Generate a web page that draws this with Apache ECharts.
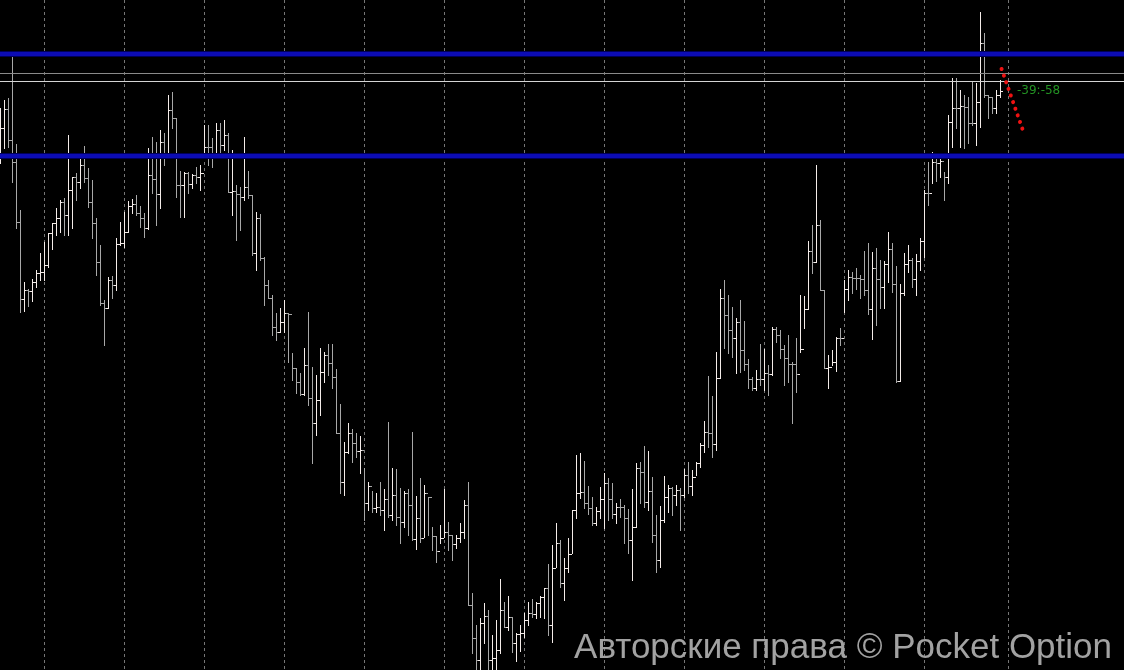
<!DOCTYPE html>
<html><head><meta charset="utf-8">
<script src="https://cdn.jsdelivr.net/npm/echarts@6/dist/echarts.min.js"></script>
<style>html,body{margin:0;padding:0;background:#000;}#c{width:1124px;height:670px;}</style>
</head><body><div id="c"></div>
<script>
// price in points (chart has no visible scale)
var opens = [850,872,891,860,838,778,701,710,709,718,
727,728,735,767,777,782,798,785,810,823,
818,835,822,798,777,738,697,692,720,715,
756,757,768,794,796,787,782,772,825,821,
806,858,842,890,882,815,815,827,816,825,
823,827,853,853,843,870,855,865,808,809,
806,803,813,805,747,782,742,715,702,673,
668,678,687,686,632,618,606,635,602,577,
600,628,645,637,623,567,518,548,567,557,
549,550,497,514,492,493,490,501,485,505,
483,478,507,495,461,482,462,507,503,464,
449,462,468,465,456,462,468,495,395,362,
340,377,384,340,342,350,390,373,383,357,
366,367,380,387,386,397,403,412,375,432,
457,417,432,446,490,507,508,497,492,477,
489,501,517,501,486,493,493,482,460,473,
532,528,498,509,465,440,480,503,512,505,
510,505,525,514,523,537,555,568,567,556,
622,702,685,670,662,678,650,636,621,612,
621,621,627,626,671,665,651,642,636,636,
626,651,691,749,738,775,710,632,633,638,
662,662,711,723,722,722,721,710,691,732,
721,713,736,751,716,619,707,736,740,721,
739,759,807,807,838,837,839,823,878,892,
892,894,893,877,877,898,957,905,903,892,
905];
var highs = [892,900,902,944,856,790,718,711,721,730,
747,758,767,777,792,800,802,865,823,827,
842,854,832,820,782,755,700,723,724,762,
778,788,799,801,805,794,787,852,863,858,
870,867,905,908,882,829,828,828,826,833,
835,875,875,862,877,877,880,867,850,815,
813,863,829,805,788,786,743,720,705,687,
692,700,687,647,632,627,652,688,633,625,
652,648,656,656,631,596,558,577,571,567,
564,532,518,509,507,518,511,578,532,531,
512,509,511,568,504,522,515,503,473,464,
475,511,478,465,465,477,500,518,407,375,
382,397,390,365,380,421,398,404,383,367,
375,387,398,401,398,404,412,436,455,477,
460,442,462,490,545,547,539,514,503,493,
513,527,522,517,497,501,495,491,511,537,
538,554,549,523,485,494,524,515,513,515,
512,531,538,530,538,557,579,624,604,648,
711,720,705,693,682,700,679,641,623,630,
656,651,635,673,673,670,655,665,638,662,
705,704,759,775,835,780,710,645,650,663,
672,720,730,728,732,725,749,757,748,752,
740,739,768,757,734,716,747,755,742,746,
762,810,838,848,845,843,828,885,922,922,
910,905,903,918,917,988,967,905,903,910,
920];
var lows = [837,852,853,818,772,688,689,694,699,713,
720,720,733,751,765,768,765,765,772,800,
812,818,793,762,725,695,655,692,702,710,
755,753,768,787,785,773,763,771,807,775,
792,835,842,872,803,783,783,807,812,817,
810,843,835,833,842,847,850,808,785,760,
770,800,802,745,730,740,695,702,665,660,
668,668,638,620,607,605,605,595,537,565,
585,618,625,612,567,507,505,547,538,543,
527,480,490,488,488,485,470,483,480,475,
457,473,465,460,451,458,463,465,450,438,
457,463,450,440,452,458,462,395,347,325,
325,357,325,325,325,347,373,370,348,339,
349,363,375,383,382,383,382,365,358,433,
413,400,428,447,482,502,492,486,475,475,
482,472,480,482,477,483,457,447,420,473,
497,493,490,458,428,433,478,488,485,495,
470,503,507,505,525,533,548,553,543,550,
622,652,647,643,627,628,630,612,610,610,
615,610,605,625,658,642,615,618,577,608,
648,672,691,727,738,710,632,612,635,629,
655,688,700,707,711,702,705,686,661,675,
692,692,718,708,618,619,705,728,713,705,
730,743,795,817,819,823,800,817,853,872,
853,852,857,875,855,873,903,882,887,887,
903];
var closes = [872,891,860,838,778,701,710,709,718,727,
728,735,767,777,782,798,785,810,823,818,
835,822,798,777,738,697,692,720,715,756,
757,768,794,796,787,782,772,825,821,806,
858,842,890,882,815,815,827,816,825,823,
827,853,853,843,870,855,865,808,809,806,
803,813,805,747,782,742,715,702,673,668,
678,687,686,632,618,606,635,602,577,600,
628,645,637,623,567,518,548,567,557,549,
550,497,514,492,493,490,501,485,505,483,
478,507,495,461,482,462,507,503,464,449,
462,468,465,456,462,468,495,395,362,340,
377,384,340,342,350,390,373,383,357,366,
367,380,387,386,397,403,412,375,432,457,
417,432,446,490,507,508,497,492,477,489,
501,517,501,486,493,493,482,460,473,532,
528,498,509,465,440,480,503,512,505,510,
505,525,514,523,537,555,568,567,556,622,
702,685,670,662,678,650,636,621,612,621,
621,627,626,671,665,651,642,636,636,626,
651,691,749,738,775,710,632,633,638,662,
662,711,723,722,722,721,710,691,732,721,
713,736,751,716,619,707,736,740,721,739,
759,807,807,838,837,839,823,878,892,892,
894,893,877,877,898,957,905,903,892,905,
909];
var gridBars = [11,31,51,71,91,111,131,151,171,191,211,231,252];
var resistanceLevels = [946, 844];
var quoteLevels = [927, 919];
var projection = [[250.4, 931], [255.7, 870]];
var timerLabel = '-39:-58';
var watermark = 'Авторские права © Pocket Option';

var UP = '#f4ece9', DOWN = '#a8a8a8';
var n = Math.min(opens.length, highs.length, lows.length, closes.length);
var bars = [];
for (var i = 0; i < n; i++) bars.push([i, opens[i], highs[i], lows[i], closes[i]]);

var chart = echarts.init(document.getElementById('c'), null, {renderer: 'canvas'});

function crispY(api, v, w) {
  var y = Math.round(api.coord([0, v])[1]);
  return (w % 2 === 1) ? y + 0.5 : y;
}

chart.setOption({
  backgroundColor: '#000000',
  animation: false,
  grid: {left: 0, right: 0, top: 0, bottom: 0},
  xAxis: {type: 'value', min: 0, max: 281, show: false, splitLine: {show: false}},
  yAxis: {type: 'value', min: 330, max: 1000, show: false, splitLine: {show: false}},
  series: [
    {
      type: 'custom', name: 'grid', silent: true, z: 1,
      data: gridBars.map(function (b) { return [b]; }),
      encode: {x: 0},
      renderItem: function (params, api) {
        var cs = params.coordSys;
        var x = Math.round(api.coord([api.value(0), 500])[0]) + 0.5;
        return {type: 'line', shape: {x1: x, y1: cs.y, x2: x, y2: cs.y + cs.height},
          style: {stroke: '#767676', lineWidth: 1, lineDash: [3, 3]}};
      }
    },
    {
      type: 'custom', name: 'bars', z: 2, clip: true,
      data: bars,
      encode: {x: 0, y: [1, 2, 3, 4]},
      renderItem: function (params, api) {
        var k = api.value(0), o = api.value(1), h = api.value(2), l = api.value(3), c = api.value(4);
        var ph = api.coord([k, h]), pl = api.coord([k, l]), po = api.coord([k, o]), pc = api.coord([k, c]);
        var cx = Math.round(ph[0]) + 0.5;
        var yo = Math.round(po[1]) + 0.5, yc = Math.round(pc[1]) + 0.5;
        var col = c > o ? UP : DOWN;
        var st = {stroke: col, lineWidth: 1};
        return {type: 'group', children: [
          {type: 'line', shape: {x1: cx, y1: Math.round(ph[1]), x2: cx, y2: Math.round(pl[1]) + 1}, style: st},
          {type: 'line', shape: {x1: cx - 2.5, y1: yo, x2: cx - 0.5, y2: yo}, style: st},
          {type: 'line', shape: {x1: cx + 0.5, y1: yc, x2: cx + 2.5, y2: yc}, style: st}
        ]};
      }
    },
    {
      type: 'custom', name: 'quotes', silent: true, z: 3,
      data: quoteLevels.map(function (v) { return [0, v]; }),
      encode: {y: 1},
      renderItem: function (params, api) {
        var cs = params.coordSys;
        var y = crispY(api, api.value(1), 1);
        var cols = ['#8a8a8a', '#d4d4d4'];
        return {type: 'line', shape: {x1: cs.x, y1: y, x2: cs.x + cs.width, y2: y},
          style: {stroke: cols[params.dataIndex % 2], lineWidth: 1}};
      }
    },
    {
      type: 'custom', name: 'levels', silent: true, z: 4,
      data: resistanceLevels.map(function (v) { return [0, v]; }),
      encode: {y: 1},
      renderItem: function (params, api) {
        var cs = params.coordSys;
        var y = crispY(api, api.value(1), 4);
        return {type: 'group', children: [
          {type: 'line', shape: {x1: cs.x, y1: y, x2: cs.x + cs.width, y2: y},
            style: {stroke: '#00005a', lineWidth: 6}},
          {type: 'line', shape: {x1: cs.x, y1: y, x2: cs.x + cs.width, y2: y},
            style: {stroke: '#0c0cb4', lineWidth: 4}}
        ]};
      }
    },
    {
      type: 'line', name: 'projection', z: 5, silent: true,
      data: projection, symbol: 'none',
      lineStyle: {color: '#ee1212', width: 4, type: [0.01, 7], cap: 'round'}
    }
  ],
  graphic: [
    {type: 'text', x: 1017, y: 91, silent: true, z: 10,
      style: {text: timerLabel, fill: '#239323', font: '12px "DejaVu Sans"', textAlign: 'left', textVerticalAlign: 'middle'}},
    {type: 'text', x: 1112, y: 648, silent: true, z: 10,
      style: {text: watermark, fill: '#a2a2a2', font: '35px "Liberation Sans", Arial, sans-serif', textAlign: 'right', textVerticalAlign: 'middle'}}
  ]
});
</script>
</body></html>
